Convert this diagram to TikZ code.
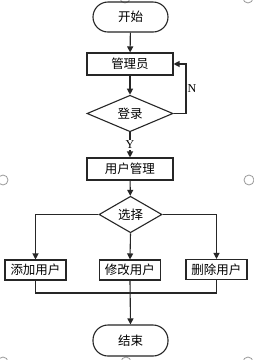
\documentclass[tikz,border=0pt]{standalone}
\usepackage{fontspec}
\newfontfamily\cjk{Noto Sans CJK SC}
\setmainfont{Liberation Serif}
\usetikzlibrary{shapes.geometric,arrows.meta}
\begin{document}
\begin{tikzpicture}[x=1pt,y=-1pt,
  every node/.style={font=\cjk\fontsize{12.5}{14}\selectfont},
  line/.style={draw=black!85,line width=1.1pt},
  arr/.style={line,-{Triangle[length=6pt,width=6pt]}},
  term/.style={line,rectangle,rounded corners=15pt,minimum width=75pt,minimum height=30pt,inner sep=0pt},
  proc/.style={line,rectangle,minimum width=86pt,minimum height=22pt,inner sep=0pt},
  small/.style={line,rectangle,minimum width=61pt,minimum height=20pt,inner sep=0pt},
  dec/.style={line,diamond,inner sep=0pt},
  lbl/.style={font=\rmfamily\fontsize{12}{14}\selectfont,inner sep=1pt},
  handle/.style={draw=black!40,line width=0.8pt}]
\useasboundingbox (0,0) rectangle (254,360);
\fill[white] (0,0) rectangle (254,360);
\begin{scope}
\clip (0,0) rectangle (254,360);
\draw[handle] (125,-2) circle (5);
\draw[handle] (248,-2) circle (5);
\draw[handle] (3,180) circle (5);
\draw[handle] (249,180) circle (5);
\draw[handle] (3,362) circle (5);
\draw[handle] (126,362) circle (5);
\draw[handle] (248,362) circle (5);
\end{scope}
\node[term] (start) at (130.5,17) {开始};
\node[proc] (admin) at (130,64) {管理员};
\node[dec,minimum width=86pt,minimum height=33pt] (login) at (130,113.5) {登录};
\node[proc] (umgr) at (130,169) {用户管理};
\node[dec,minimum width=63pt,minimum height=25pt] (sel) at (130.5,214.5) {选择};
\node[small] (add) at (35.5,270) {添加用户};
\node[small] (mod) at (130,270) {修改用户};
\node[small] (del) at (216.5,269.5) {删除用户};
\node[term,minimum height=31pt] (end) at (130.5,340.5) {结束};
\coordinate (loopx) at (186,113.5);
\coordinate (join) at (130,293);
\draw[arr] (start) -- (admin);
\draw[arr] (admin) -- (login);
\draw[arr] (login.east) -- (loopx) |- (admin.east) node[lbl,pos=0.25,right] {N};
\draw[arr] (login.south) -- node[lbl,fill=white,pos=0.5] {Y} (umgr.north);
\draw[arr] (umgr) -- (sel);
\draw[arr] (sel.west) -| (add.north);
\draw[arr] (sel.east) -| (del.north);
\draw[arr] (sel.south) -- (mod.north);
\draw[line] (add.south) |- (join) -| (del.south);
\draw[arr] (mod.south) -- (end.north);
\end{tikzpicture}
\end{document}
